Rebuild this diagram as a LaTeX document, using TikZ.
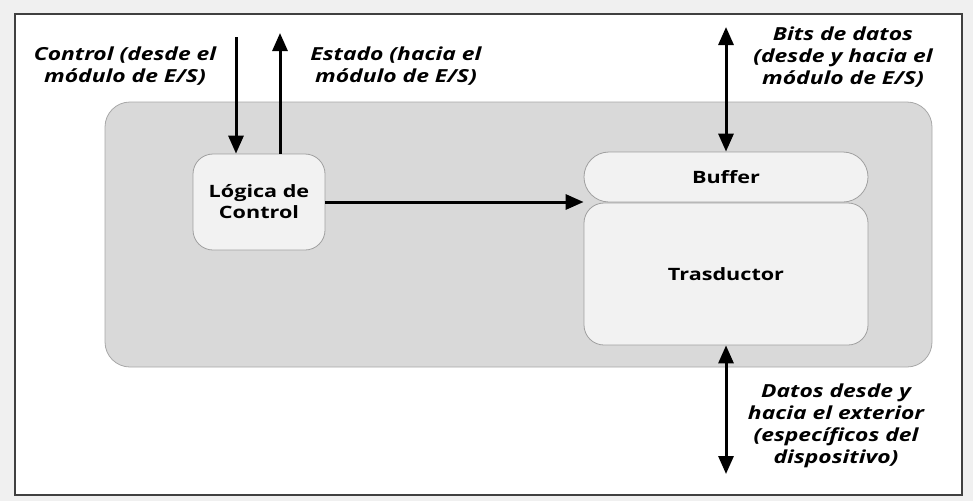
\documentclass[tikz,border=0pt]{standalone}
\usepackage{fontspec}
\setmainfont{Open Sans}[FakeStretch=1.27]
\usetikzlibrary{arrows.meta}
\definecolor{PageGray}{HTML}{F0F0F0}
\definecolor{FrameLine}{HTML}{404040}
\definecolor{ModFill}{HTML}{D9D9D9}
\definecolor{ModLine}{HTML}{A8A8A8}
\definecolor{BoxFill}{HTML}{F2F2F2}
\definecolor{BoxLine}{HTML}{A0A0A0}

\begin{document}
\begin{tikzpicture}[x=1pt, y=-1pt,
    block/.style={draw=BoxLine, fill=BoxFill, line width=0.8pt, rounded corners=20pt, inner sep=0pt,
        align=center, font=\bfseries\fontsize{17}{21}\selectfont},
    flow/.style={line width=3pt, -{Triangle[width=15pt,length=18pt]}},
    bothflow/.style={line width=3pt, {Triangle[width=15pt,length=18pt]}-{Triangle[width=15pt,length=18pt]}},
    note/.style={align=center, font=\bfseries\itshape\fontsize{18}{22}\selectfont}]
    % Frames
    \fill[PageGray] (0,0) rectangle (973,501);
    \draw[FrameLine, fill=white, line width=1.5pt] (15,14) rectangle (962,495);
    \draw[ModLine, fill=ModFill, line width=0.8pt, rounded corners=25pt] (105,102) rectangle (932,367);
    % Blocks
    \node[block, minimum width=132pt, minimum height=96pt] (logic) at (259,202) {Lógica de\\Control};
    \node[block, minimum width=284pt, minimum height=50pt, rounded corners=25pt] (buffer) at (726,177) {Buffer};
    \node[block, minimum width=284pt, minimum height=142pt] (trans) at (726,274) {Trasductor};
    % Reference coordinates
    \coordinate (ctrlin) at (236,37);
    \coordinate (estout) at (280,33);
    \coordinate (bitsout) at (726,27);
    \coordinate (datosout) at (726,474);
    % Arrows
    \draw[flow] (ctrlin) -- (ctrlin |- logic.north);
    \draw[flow] (estout |- logic.north) -- (estout);
    \draw[flow] (logic.east) -- (logic.east -| buffer.west);
    \draw[bothflow] (bitsout) -- (buffer.north);
    \draw[bothflow] (trans.south) -- (datosout);
    % Labels
    \node[note] (ctrltext) at (125,66) {Control (desde el\\módulo de E/S)};
    \node[note] (esttext) at (396,66) {Estado (hacia el\\módulo de E/S)};
    \node[note] (bitstext) at (843,57) {Bits de datos\\(desde y hacia el\\módulo de E/S)};
    \node[note] (datostext) at (836,426) {Datos desde y\\hacia el exterior\\(específicos del\\dispositivo)};
\end{tikzpicture}
\end{document}
